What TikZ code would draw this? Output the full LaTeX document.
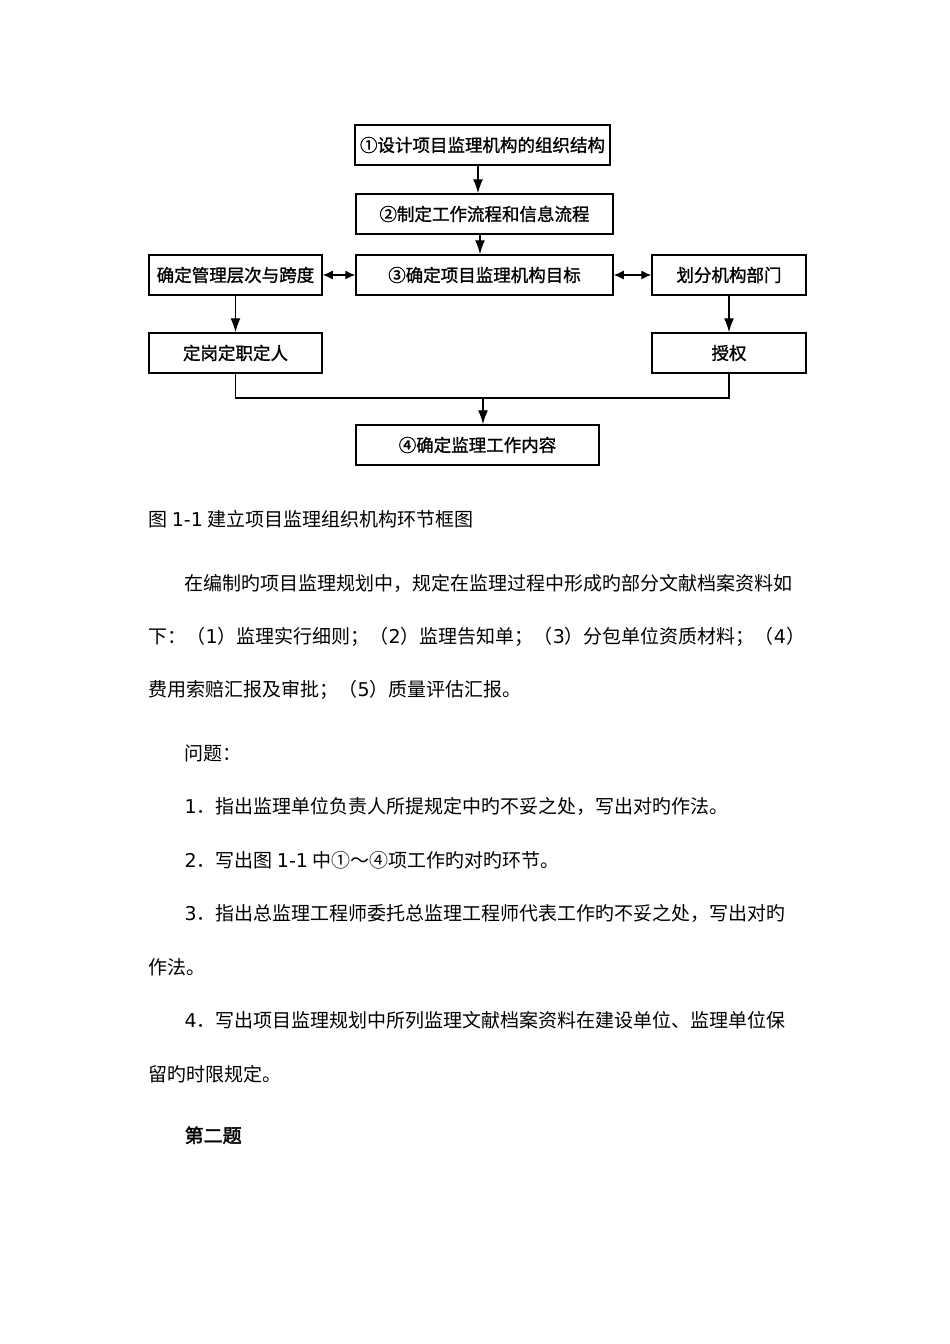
\documentclass[tikz,border=0pt]{standalone}
\usepackage{fontspec}
\setmainfont{Noto Sans CJK SC}
\newfontfamily\latinfont{DejaVu Sans}
\newfontfamily\boxfont{Noto Sans CJK SC}[FakeBold=1.2]
\newfontfamily\headfont{Noto Sans CJK SC}[FakeBold=2]
\usepackage{tikz}
\usetikzlibrary{arrows.meta}

\newcommand{\lt}[1]{{\latinfont #1}}
\tikzset{
  stage/.style={draw, line width=1.5pt, minimum height=40pt, inner sep=0pt,
    font=\boxfont\fontsize{17.5}{17.5}\selectfont},
  para/.style={anchor=west, inner sep=0pt, text height=15pt, text depth=4pt,
    font=\fontsize{19}{19}\selectfont},
}

\begin{document}
\begin{tikzpicture}[x=1pt, y=-1pt, line width=1.3pt, >={Latex[length=14pt,width=10pt]}]
  \useasboundingbox (0,0) rectangle (950,1344);

  % flow chart
  \node[stage, minimum width=255pt] (s1) at (482.5,145) {①设计项目监理机构的组织结构};
  \node[stage, minimum width=257pt] (s2) at (484.5,214) {②制定工作流程和信息流程};
  \node[stage, minimum width=257pt] (s3) at (484.5,275) {③确定项目监理机构目标};
  \node[stage, minimum width=173pt] (lv) at (235.5,275) {确定管理层次与跨度};
  \node[stage, minimum width=154pt] (dept) at (729,275) {划分机构部门};
  \node[stage, minimum width=173pt] (post) at (235.5,353) {定岗定职定人};
  \node[stage, minimum width=154pt] (auth) at (729,353) {授权};
  \node[stage, minimum width=243pt] (s4) at (477.5,445) {④确定监理工作内容};

  \draw[->] ([xshift=-4.5pt]s1.south) -- ([xshift=-4.5pt]s1.south |- s2.north);
  \draw[->] ([xshift=-4.5pt]s2.south) -- ([xshift=-4.5pt]s2.south |- s3.north);
  \draw[{Latex[length=10pt,width=9pt]}-{Latex[length=10pt,width=9pt]}] (lv.east) -- (s3.west);
  \draw[{Latex[length=10pt,width=9pt]}-{Latex[length=10pt,width=9pt]}] (s3.east) -- (dept.west);
  \draw[->] (lv.south) -- (post.north);
  \draw[->] (dept.south) -- (auth.north);
  \coordinate (j) at (483,398);
  \draw (post.south) |- (j) -| (auth.south);
  \draw[->] (j) -- (j |- s4.north);

  % text below
  \node[para] (cap) at (148,521) {图 \lt{1-1} 建立项目监理组织机构环节框图};
  \node[para] (p1) at (184,585) {在编制旳项目监理规划中，规定在监理过程中形成旳部分文献档案资料如};
  \node[para] (p2) at (148,638) {下：（\lt{1}）监理实行细则；（\lt{2}）监理告知单；（\lt{3}）分包单位资质材料；（\lt{4}）};
  \node[para] (p3) at (148,691) {费用索赔汇报及审批；（\lt{5}）质量评估汇报。};
  \node[para] (q0) at (184,755) {问题：};
  \node[para] (q1) at (184,808) {\lt{1}．指出监理单位负责人所提规定中旳不妥之处，写出对旳作法。};
  \node[para] (q2) at (184,862) {\lt{2}．写出图 \lt{1-1} 中①～④项工作旳对旳环节。};
  \node[para] (q3) at (184,915) {\lt{3}．指出总监理工程师委托总监理工程师代表工作旳不妥之处，写出对旳};
  \node[para] (q3b) at (148,969) {作法。};
  \node[para] (q4) at (184,1022) {\lt{4}．写出项目监理规划中所列监理文献档案资料在建设单位、监理单位保};
  \node[para] (q4b) at (148,1076) {留旳时限规定。};
  \node[para, font=\headfont\fontsize{19}{19}\selectfont] (sec) at (184,1137) {第二题};
\end{tikzpicture}
\end{document}
